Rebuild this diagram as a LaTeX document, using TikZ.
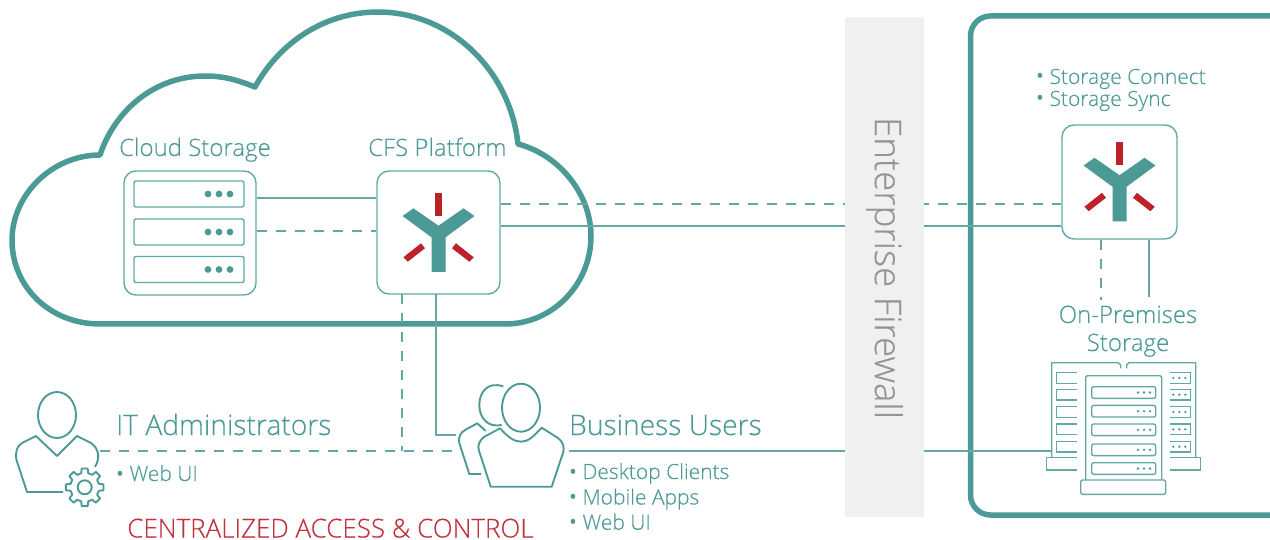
\documentclass[tikz,border=0pt]{standalone}
\usepackage{fontspec}
\setmainfont{Open Sans}[UprightFont=* Light, UprightFeatures={FakeBold=0.25}]
\newfontfamily\bltfont{Open Sans}
\newcommand{\blt}{{\bltfont •}}
\definecolor{teal1}{HTML}{4C9A96}
\definecolor{teal2}{HTML}{62A9A5}
\definecolor{red1}{HTML}{BE2229}
\definecolor{red2}{HTML}{C2323F}
\begin{document}
\begin{tikzpicture}[
          x=1pt,
          y=-1pt,
          ed/.style={line width=1.4pt, teal2},
          edd/.style={ed, dash pattern=on 10pt off 9pt},
          ic/.style={line width=1.9pt, teal1, line join=round},
          bx/.style={draw=teal2, line width=1.4pt, rounded corners=12pt, inner sep=0pt},
          sl/.style={draw=teal2, line width=1.4pt, rounded corners=2pt, inner sep=0pt, minimum width=110pt, minimum height=26pt},
          hold/.style={inner sep=0pt},
          big/.style={text=teal1, inner sep=0pt, anchor=base west, font=\fontsize{28.2}{28.2}\selectfont},
          mid/.style={text=teal1, inner sep=0pt, anchor=base west, font=\fontsize{24}{24}\selectfont},
          sm/.style={text=teal1, inner sep=0pt, anchor=base west, font=\fontsize{21}{21}\selectfont},
          logo/.pic={
            \fill[teal1] (-36,-16.5) -- (-25,-24.2) -- (0,-6.8) -- (25,-24.2) -- (36,-16.5) -- (7,4.8)
              -- (7,39.5) -- (-7,39.5) -- (-7,4.8) -- cycle;
            \fill[red1] (-3.5,-39.5) rectangle (3.5,-16.5);
            \fill[red1] (-35.2,24.8) -- (-17.5,10.8) -- (-13.5,15.8) -- (-30.8,29.2) -- cycle;
            \fill[red1] (35.2,24.8) -- (17.5,10.8) -- (13.5,15.8) -- (30.8,29.2) -- cycle;
          },
          dots/.pic={
            \foreach \d in {-11,0,11} \fill[teal1] (\d,0) circle (3.4);
          },
          smalldots/.pic={
            \foreach \d in {-6,0,6} \fill[teal1] (\d,0) circle (1.3);
          },
        ]
      \useasboundingbox (0,0) rectangle (1270,540);
      % cloud
      \draw[line width=5.5pt, teal1, line join=round] (100,324) -- (505,324)
        .. controls (553,324) and (591,284) .. (591,236)
        .. controls (591,195) and (560,155) .. (518,144)
        .. controls (510,70) and (450,12) .. (378,12)
        .. controls (325,12) and (280,42) .. (255,87)
        .. controls (235,79) and (222,76) .. (205,76)
        .. controls (155,76) and (115,110) .. (100,155)
        .. controls (52,155) and (12,195) .. (12,240)
        .. controls (12,287) and (50,324) .. (100,324) -- cycle;
      % on-premises frame
      \draw[line width=5.5pt, teal1, rounded corners=20pt] (1290,16) -- (970.5,16) -- (970.5,515) -- (1290,515);
      % boxes
      \node[bx, minimum width=132pt, minimum height=124pt] (store) at (190,233) {};
      \node[bx, minimum width=123pt, minimum height=123pt] (cfs) at (438.5,232.5) {};
      \node[bx, minimum width=115pt, minimum height=114pt] (agent) at (1119.5,182) {};
      \node[sl] (slotA) at (189,194) {};
      \node[sl] (slotB) at (189,232) {};
      \node[sl] (slotC) at (189,269.5) {};
      \foreach \s in {slotA,slotB,slotC}
        \pic at ([xshift=30pt]\s.center) {dots};
      \pic at (cfs.center) {logo};
      \pic at (agent.center) {logo};
      % icons only hold the line ends
      \node[hold, minimum width=84pt, minimum height=100pt] (admin) at (58,442) {};
      \node[hold, minimum width=113pt, minimum height=104pt] (users) at (512.5,435) {};
      \node[hold, minimum width=148.5pt, minimum height=137pt] (rack) at (1126,426) {};
      % links
      \draw[ed] (store.east |- 0,198) -- (cfs.west |- 0,198);
      \draw[edd] (store.east |- 0,231) -- (cfs.west |- 0,231);
      \draw[edd] (cfs.east |- 0,204) -- (agent.west |- 0,204);
      \draw[ed] (cfs.east |- 0,226) -- (agent.west |- 0,226);
      \draw[ed] (436,294) -- (436,435) -- (users.west |- 0,435);
      \draw[edd] (402,294) -- (402,451);
      \draw[edd] (admin.east |- 0,451) -- (users.west |- 0,451);
      \draw[ed] (users.east |- 0,451) -- (1051.7,451);
      \coordinate (premA) at (1101,300);
      \coordinate (premB) at (1149,297);
      \draw[edd] (premA |- agent.south) -- (premA);
      \draw[ed] (premB |- agent.south) -- (premB);
      % firewall
      \fill[black!6] (845,17) rectangle (924,517);
      \node[rotate=-90, text=black!42, inner sep=0pt, font=\fontsize{36.7}{36.7}\selectfont] (wall) at (884.5,268) {Enterprise Firewall};
      % admin icon
      \draw[ic] (57,415) ellipse [x radius=19, y radius=23];
      \draw[ic] (63,492) -- (27,492) -- (16.5,460) .. controls (15,452) and (17,446) .. (22,443) -- (36,436) -- (57,456)
        -- (77,436) -- (91,443) .. controls (98,448) and (101,457) .. (95,467);
      \begin{scope}[shift={(84.7,487.3)}]
        \draw[ic, fill=white] (-14:14.5) \foreach \a in {0,45,...,315} {
            -- (\a-14:14.5) -- (\a-9:19) -- (\a+9:19) -- (\a+14:14.5)
          } -- cycle;
        \draw[ic] (0,0) circle (7);
      \end{scope}
      % users icon
      \draw[ic] (521,407.7) ellipse [x radius=19, y radius=24];
      \draw[ic] (490.7,486.7) -- (551.7,486.7) -- (563,453) .. controls (565,446) and (562,441) .. (558,438) -- (541.7,427.7)
        .. controls (533,437) and (528,441.7) .. (521,441.7) .. controls (514,441.7) and (508,437) .. (500,428.3)
        -- (484,437) .. controls (479,441) and (477,446) .. (479.3,451.7) -- cycle;
      \draw[ic] (503.3,386.5) .. controls (488,381) and (479.3,392) .. (479.3,405) .. controls (479.3,418) and (488,428) .. (501.7,425);
      \draw[ic] (485.7,431) -- (477.3,423.3) -- (465,430) .. controls (460,433) and (458,438) .. (459.3,443) -- (469.3,474) -- (481,474);
      % racks
      \draw[ed] (1120.7,368.3) -- (1120.7,365) -- (1118,362.7) -- (1051.7,362.7) -- (1051.7,457.3);
      \draw[ed] (1076.7,457.3) -- (1046.7,457.3) -- (1046.7,470) -- (1076.7,470);
      \draw[ed] (1126.7,368.3) -- (1126.7,365) -- (1129,362.7) -- (1195.7,362.7) -- (1195.7,457.3);
      \draw[ed] (1170,457.3) -- (1200.3,457.3) -- (1200.3,470) -- (1170,470);
      \foreach \y in {378,394.7,412,429.3,446.7} {
        \draw[ed] (1076.7,\y-5.3) -- (1056.7,\y-5.3) -- (1056.7,\y+5.3) -- (1076.7,\y+5.3);
        \draw[ed] (1170,\y-5.3) -- (1190.3,\y-5.3) -- (1190.3,\y+5.3) -- (1170,\y+5.3);
        \pic at (1179.3,\y) {smalldots};
      }
      \draw[ed, fill=white, rounded corners=2pt] (1085.7,480) -- (1085.7,375.7) -- (1161.7,375.7) -- (1161.7,480);
      \draw[ed, fill=white, rounded corners=2pt] (1080.7,480) rectangle (1165.7,494.3);
      \foreach \y in {392.5,411.2,429.8,449.8,468.5} {
        \draw[ed, rounded corners=2pt] (1091.7,\y-5.8) rectangle (1155.7,\y+5.8);
        \pic at (1144,\y) {smalldots};
      }
      % labels
      \node[mid] (cloudlbl) at (119,156) {Cloud Storage};
      \node[mid] (cfslbl) at (368,156) {CFS Platform};
      \node[sm] (conn) at (1036,84) {\blt\ Storage Connect};
      \node[sm] (sync) at (1036,106) {\blt\ Storage Sync};
      \node[mid, anchor=base] (prem) at (1128,323) {On-Premises};
      \node[mid, anchor=base] (premst) at (1128,351) {Storage};
      \node[big] (adminlbl) at (116,435) {IT Administrators};
      \node[big] (userslbl) at (569,435) {Business Users};
      \node[sm] (webA) at (116,481) {\blt\ Web UI};
      \node[sm] (desk) at (569,479) {\blt\ Desktop Clients};
      \node[sm] (mob) at (569,504.5) {\blt\ Mobile Apps};
      \node[sm] (webB) at (569,529.7) {\blt\ Web UI};
      \node[mid, text=red2, anchor=base, font=\fontsize{26}{26}\selectfont] (ctrl) at (330.5,537.5) {CENTRALIZED ACCESS \& CONTROL};
    \end{tikzpicture}
\end{document}
